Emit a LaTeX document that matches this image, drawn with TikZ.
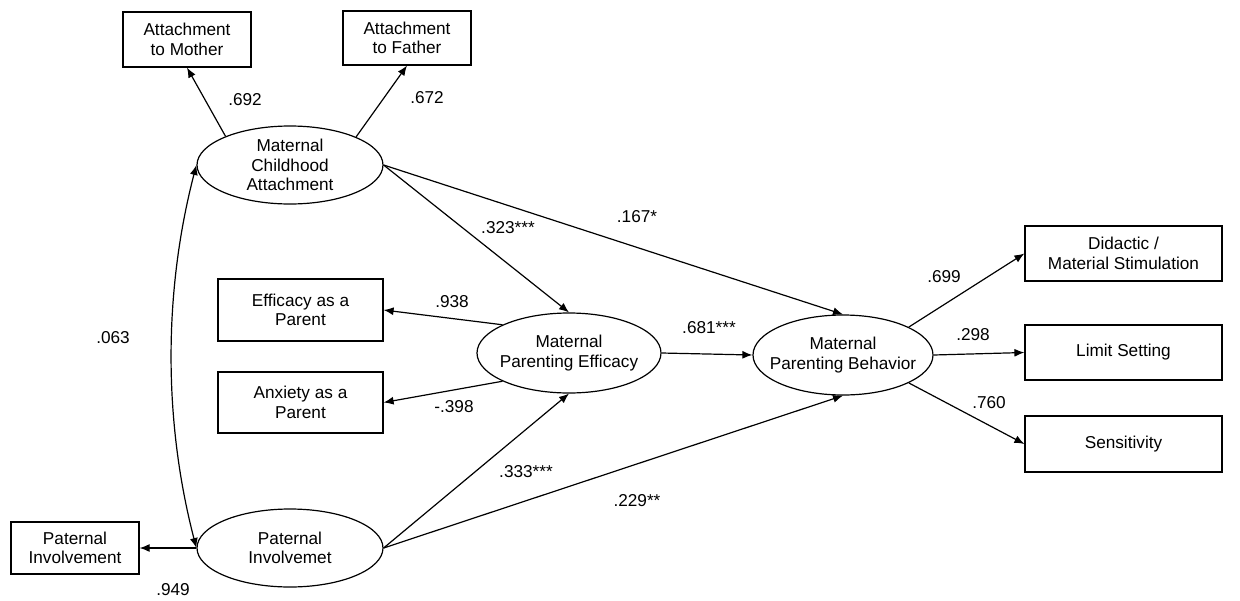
\documentclass[tikz,border=0pt]{standalone}
\usepackage{fontspec}
\setmainfont{Liberation Sans}
\usetikzlibrary{shapes.geometric,arrows.meta}
\begin{document}
\begin{tikzpicture}[x=1pt,y=1pt,
  font=\fontsize{17.2}{19.5}\selectfont,
  every node/.style={inner sep=0pt},
  obs/.style={draw,line width=1.2pt,rectangle,align=center},
  lat/.style={draw,line width=1.2pt,ellipse,align=center,inner xsep=-16pt,inner ysep=-2pt},
  path/.style={line width=1.2pt,-{Latex[length=10pt,width=8pt]}},
  cov/.style={line width=1.2pt,{Latex[length=10pt,width=8pt]}-{Latex[length=10pt,width=8pt]}},
  lbl/.style={inner sep=0pt}]
\useasboundingbox (0,0) rectangle (1240,-600);
% observed boxes
\node[obs,minimum width=128pt,minimum height=55pt] (mom) at (187,-39.5) {Attachment\\to Mother};
\node[obs,minimum width=128pt,minimum height=54pt] (dad) at (407,-38) {Attachment\\to Father};
\node[obs,minimum width=165pt,minimum height=62pt] (eff) at (300.5,-310) {Efficacy as a\\Parent};
\node[obs,minimum width=165pt,minimum height=61pt] (anx) at (300.5,-402.5) {Anxiety as a\\Parent};
\node[obs,minimum width=128pt,minimum height=52pt] (pib) at (75,-548) {Paternal\\Involvement};
\node[obs,minimum width=197pt,minimum height=55pt] (did) at (1123.5,-253.5) {Didactic /\\Material Stimulation};
\node[obs,minimum width=197pt,minimum height=55pt] (lim) at (1123.5,-352.5) {Limit Setting};
\node[obs,minimum width=197pt,minimum height=56pt] (sen) at (1123.5,-444) {Sensitivity};
% latent ellipses
\node[lat,minimum width=186pt,minimum height=78pt] (mca) at (290,-165) {Maternal\\Childhood\\Attachment};
\node[lat,minimum width=186pt,minimum height=78pt] (pi) at (290,-548) {Paternal\\Involvemet};
\node[lat,minimum width=184pt,minimum height=80pt] (mpe) at (569,-353) {Maternal\\Parenting Efficacy};
\node[lat,minimum width=180pt,minimum height=80pt] (mpb) at (843,-355) {Maternal\\Parenting Behavior};
% measurement paths
\draw[path] (mca.156) -- (mom.south);
\draw[path] (mca.23) -- (dad.south);
\draw[path] (mpe.157) -- (eff.east);
\draw[path] (mpe.203) -- (anx.east);
\draw[path] (pi.west) -- (pib.east);
\draw[path] (mpb.23) -- (did.west);
\draw[path] (mpb.east) -- (lim.west);
\draw[path] (mpb.-23) -- (sen.west);
% structural paths
\draw[path] (mca.east) -- (mpe.north);
\draw[path] (mca.east) -- (mpb.north);
\draw[path] (pi.east) -- (mpe.south);
\draw[path] (pi.east) -- (mpb.south);
\draw[path] (mpe.east) -- (mpb.west);
% covariance
\draw[cov] (mca.west) .. controls +(-33,-127) and +(-33,127) .. (pi.west);
% labels
\node[lbl] (l1) at (245,-100) {.692};
\node[lbl] (l2) at (427,-98) {.672};
\node[lbl] (l3) at (113,-338) {.063};
\node[lbl] (l4) at (173,-590) {.949};
\node[lbl] (l5) at (508,-228) {.323***};
\node[lbl] (l6) at (637,-217) {.167*};
\node[lbl] (l7) at (452,-302) {.938};
\node[lbl] (l8) at (454,-407) {-.398};
\node[lbl] (l9) at (709,-328) {.681***};
\node[lbl] (l10) at (944,-277) {.699};
\node[lbl] (l11) at (973,-335) {.298};
\node[lbl] (l12) at (989,-403) {.760};
\node[lbl] (l13) at (526,-472) {.333***};
\node[lbl] (l14) at (637,-501) {.229**};
\end{tikzpicture}
\end{document}
